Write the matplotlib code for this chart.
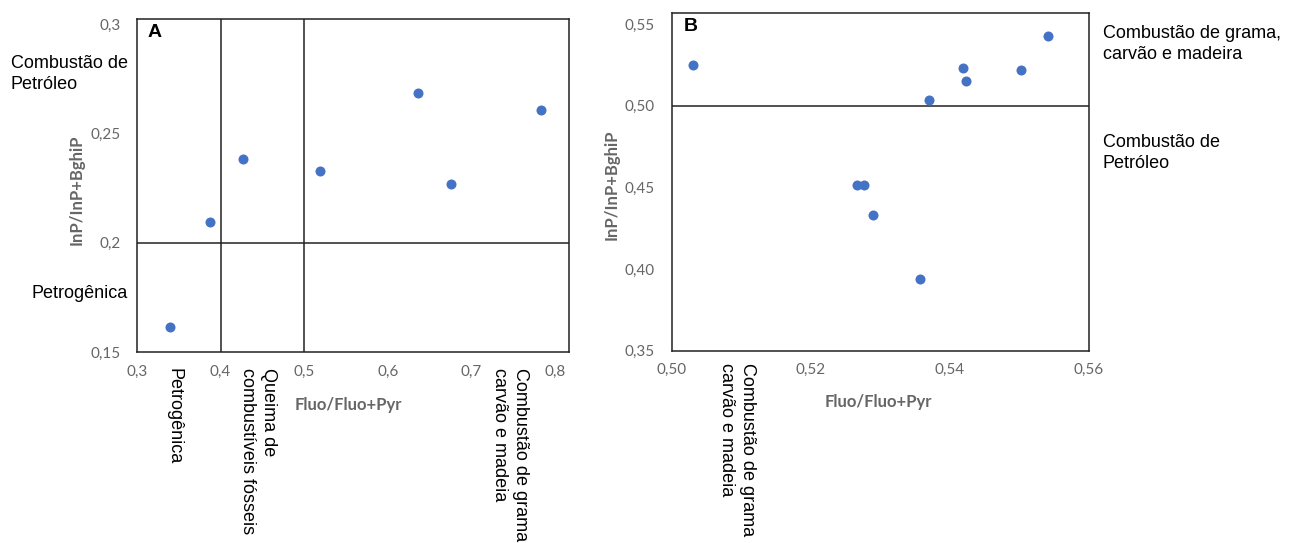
import matplotlib
matplotlib.use('Agg')
import matplotlib.pyplot as plt
from matplotlib.ticker import FixedLocator, FuncFormatter

# Panel A data
a_x = [0.3395, 0.3874, 0.427, 0.519, 0.636, 0.676, 0.783]
a_y = [0.1614, 0.2094, 0.2381, 0.2328, 0.2686, 0.2268, 0.2605]
a_xticks = [0.3, 0.4, 0.5, 0.6, 0.7, 0.8]
a_yticks = [0.15, 0.2, 0.25, 0.3]
a_vlines = [0.4, 0.5]
a_hline = 0.2

# Panel B data
b_x = [0.5031, 0.5267, 0.5277, 0.5290, 0.5357, 0.5370, 0.5419, 0.5423, 0.5502, 0.5541]
b_y = [0.5249, 0.4515, 0.4515, 0.4331, 0.3939, 0.5035, 0.5231, 0.5151, 0.5219, 0.5427]
b_xticks = [0.50, 0.52, 0.54, 0.56]
b_yticks = [0.35, 0.40, 0.45, 0.50, 0.55]
b_hline = 0.50

W, H = 1289, 543
DOT = '#4472C4'
TICK = '#666666'
label_font = ['Liberation Sans Narrow', 'Liberation Sans', 'DejaVu Sans']
tick_font = ['Lato', 'DejaVu Sans']


def px(x, y):
    # pixel position -> figure fraction
    return x / W, 1 - y / H


def comma(dec):
    return FuncFormatter(lambda v, p: f"{v:.{dec}f}".replace('.', ',') if dec else
                         (f"{v:g}").replace('.', ','))


def style_axes(ax):
    for s in ax.spines.values():
        s.set_linewidth(1.1)
        s.set_color('#222222')
    ax.tick_params(length=0, labelsize=11, labelcolor=TICK)
    for lab in ax.get_xticklabels() + ax.get_yticklabels():
        lab.set_family(tick_font)


fig = plt.figure(figsize=(W / 100, H / 100), dpi=100)

# ---- Panel A
axA = fig.add_axes([137 / W, 1 - 352 / H, 432 / W, 333 / H])
axA.scatter(a_x, a_y, s=52, color=DOT, zorder=3, linewidths=0)
for v in a_vlines:
    axA.axvline(v, color='#222222', lw=1.1)
axA.axhline(a_hline, color='#222222', lw=1.1)
axA.set_xlim(0.3, 0.817)
axA.set_ylim(0.15, 0.3023)
axA.xaxis.set_major_locator(FixedLocator(a_xticks))
axA.yaxis.set_major_locator(FixedLocator(a_yticks))
axA.xaxis.set_major_formatter(comma(0))
axA.yaxis.set_major_formatter(comma(0))
axA.tick_params(axis='y', pad=12)
axA.tick_params(axis='x', pad=9)
style_axes(axA)
axA.text(0.025, 0.985, 'A', transform=axA.transAxes, fontsize=14, fontweight='bold',
         va='top', ha='left', family=['Liberation Sans', 'DejaVu Sans'])

# ---- Panel B
axB = fig.add_axes([671.7 / W, 1 - 350.7 / H, 417.3 / W, 337.4 / H])
axB.scatter(b_x, b_y, s=52, color=DOT, zorder=3, linewidths=0)
axB.axhline(b_hline, color='#222222', lw=1.1)
axB.set_xlim(0.50, 0.56)
axB.set_ylim(0.35, 0.5566)
axB.xaxis.set_major_locator(FixedLocator(b_xticks))
axB.yaxis.set_major_locator(FixedLocator(b_yticks))
axB.xaxis.set_major_formatter(comma(2))
axB.yaxis.set_major_formatter(comma(2))
axB.tick_params(axis='y', pad=12)
axB.tick_params(axis='x', pad=9)
style_axes(axB)
axB.text(0.03, 0.985, 'B', transform=axB.transAxes, fontsize=14, fontweight='bold',
         va='top', ha='left', family=['Liberation Sans', 'DejaVu Sans'])

# axis titles
ax_title = dict(fontsize=12, fontweight='bold', color=TICK, family=tick_font)
fig.text(*px(77, 190), 'InP/InP+BghiP', rotation=90, ha='center', va='center', **ax_title)
fig.text(*px(612, 185), 'InP/InP+BghiP', rotation=90, ha='center', va='center', **ax_title)
fig.text(*px(348, 405), 'Fluo/Fluo+Pyr', ha='center', va='center', **ax_title)
fig.text(*px(878, 402), 'Fluo/Fluo+Pyr', ha='center', va='center', **ax_title)

# region labels
lab = dict(fontsize=13, color='black', family=label_font, linespacing=1.3)
fig.text(*px(11, 74), 'Combustão de\nPetróleo', ha='left', va='center', **lab)
fig.text(*px(128, 293), 'Petrogênica', ha='right', va='center', **lab)
fig.text(*px(1103, 44), 'Combustão de grama,\ncarvão e madeira', ha='left', va='center', **lab)
fig.text(*px(1103, 153), 'Combustão de\nPetróleo', ha='left', va='center', **lab)

fig.text(*px(174, 368), 'Petrogênica', rotation=-90, ha='center', va='top', **lab)
fig.text(*px(258, 368), 'Queima de\ncombustíveis fósseis', rotation=-90, ha='center', va='top',
         multialignment='left', **lab)
fig.text(*px(510, 368), 'Combustão de grama\ncarvão e madeia', rotation=-90, ha='center', va='top',
         multialignment='left', **lab)
fig.text(*px(737, 363), 'Combustão de grama\ncarvão e madeia', rotation=-90, ha='center', va='top',
         multialignment='left', **lab)

fig.savefig('out.png', dpi=100, facecolor='white')
